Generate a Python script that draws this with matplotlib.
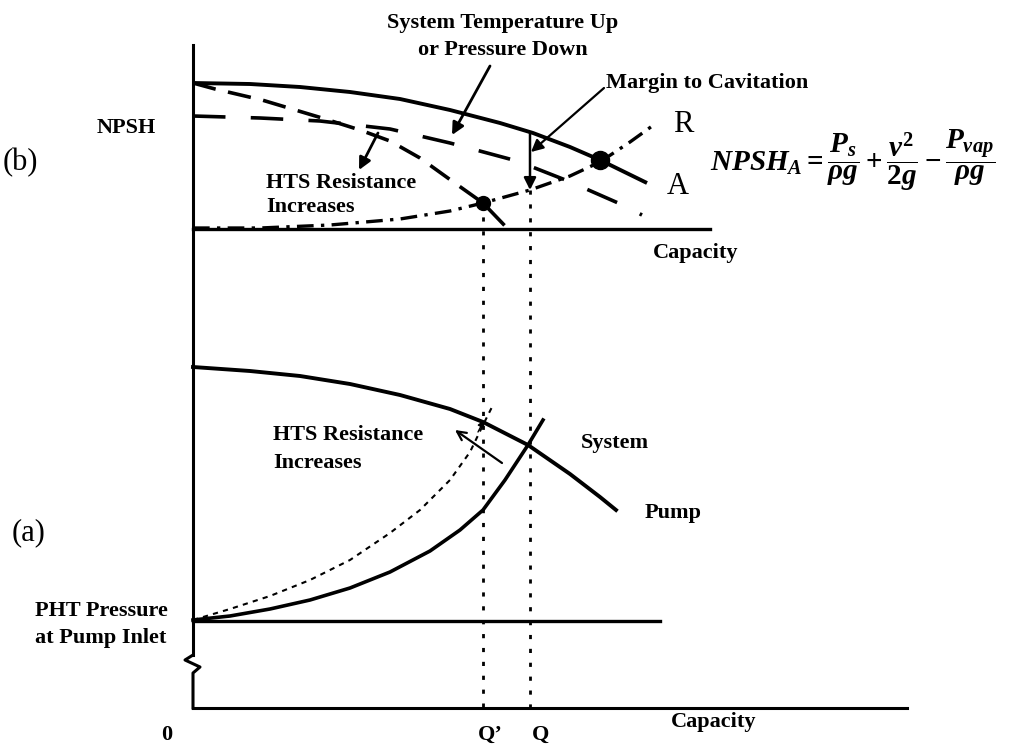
import matplotlib

matplotlib.use("Agg")
import matplotlib.pyplot as plt

plt.rcParams["font.family"] = ["Liberation Serif", "DejaVu Serif"]
plt.rcParams["mathtext.fontset"] = "custom"
plt.rcParams["mathtext.it"] = "Liberation Serif:italic:bold"
plt.rcParams["mathtext.rm"] = "Liberation Serif:bold"
plt.rcParams["mathtext.bf"] = "Liberation Serif:bold"

# schematic drawn in picture units (x right, y down)
# (b) NPSH panel
npsh_a_x = [193, 250, 300, 350, 400, 450, 500, 533, 570, 600, 647]
npsh_a_y = [83, 84, 87, 92, 99, 110, 123, 133, 147, 160, 183]

npsh_r_x = [193, 260, 330, 400, 450, 483, 530, 570, 600, 630, 655]
npsh_r_y = [228, 228, 225, 219, 211, 203, 190, 176, 162, 142, 124]

hts_a_x = [193, 215, 262, 322, 360, 390, 420, 452, 483, 507]
hts_a_y = [83, 89, 100, 118, 130, 141, 158, 181, 203, 228]

temp_a_x = [193, 260, 320, 390, 450, 517, 568, 625, 642]
temp_a_y = [116, 118, 121, 129, 143, 161, 181, 206, 215]

# (a) head / capacity panel
pump_x = [193, 250, 300, 350, 400, 450, 483, 528, 570, 600, 616]
pump_y = [367, 371, 376, 384, 395, 409, 422, 445, 474, 497, 510]

system_x = [193, 230, 270, 310, 350, 390, 430, 460, 483, 505, 528, 543]
system_y = [620, 616, 609, 600, 588, 572, 551, 530, 510, 480, 445, 420]

system_hts_x = [193, 230, 270, 310, 350, 390, 420, 450, 470, 483, 493]
system_hts_y = [620, 609, 596, 580, 560, 533, 510, 480, 452, 425, 405]

q_prime, q_op = 483, 530
y_top_axis, y_pht, y_bottom = 229, 621, 708
x_axis = 193

fig = plt.figure(figsize=(10.16, 7.44), dpi=100)
ax = fig.add_axes([0, 0, 1, 1])
ax.set_xlim(0, 1016)
ax.set_ylim(744, 0)
ax.axis("off")

k = "black"

# axes lines
ax.plot([x_axis, x_axis], [45, 655], color=k, lw=2.2)
ax.plot([x_axis, 185, 200, x_axis, x_axis], [655, 660, 667, 673, y_bottom], color=k, lw=2.2)
ax.plot([x_axis, 710], [y_top_axis, y_top_axis], color=k, lw=2.4)
ax.plot([x_axis, 660], [y_pht, y_pht], color=k, lw=2.4)
ax.plot([x_axis, 907], [y_bottom, y_bottom], color=k, lw=2.2)

# Q' and Q verticals
ax.plot([q_prime, q_prime], [203, y_bottom], color=k, lw=2.0, ls=(0, (1.5, 3.5)))
ax.plot([q_op, q_op], [190, y_bottom], color=k, lw=2.0, ls=(0, (1.5, 3.5)))

# NPSH curves
ax.plot(npsh_a_x, npsh_a_y, color=k, lw=2.8, solid_capstyle="butt")
ax.plot(npsh_r_x, npsh_r_y, color=k, lw=2.4, ls=(0, (5, 2.2, 1, 2.2)))
ax.plot(hts_a_x, hts_a_y, color=k, lw=2.6, ls=(0, (6.5, 3.5)))
ax.plot(temp_a_x, temp_a_y, color=k, lw=2.6, ls=(0, (9, 7)))
ax.plot([npsh_a_x[9]], [npsh_a_y[9]], "o", color=k, ms=13)
ax.plot([hts_a_x[8]], [hts_a_y[8]], "o", color=k, ms=10)

# pump / system curves
ax.plot(pump_x, pump_y, color=k, lw=2.8)
ax.plot(system_x, system_y, color=k, lw=2.6)
ax.plot(system_hts_x, system_hts_y, color=k, lw=1.5, ls=(0, (2.5, 2.5)))

# arrows
heavy = dict(arrowstyle="-|>", color=k, lw=2.0, mutation_scale=18, shrinkA=0, shrinkB=0)
ax.annotate("", xy=(452, 135), xytext=(490, 66), arrowprops=heavy)
ax.annotate("", xy=(359, 170), xytext=(378, 133), arrowprops=heavy)
ax.annotate("", xy=(531, 152), xytext=(604, 88), arrowprops=dict(heavy, lw=1.6))
ax.annotate("", xy=(530, 190), xytext=(530, 133), arrowprops=dict(heavy, lw=1.8))
ax.annotate("", xy=(455, 430), xytext=(502, 463),
            arrowprops=dict(arrowstyle="->", color=k, lw=1.6, mutation_scale=16, shrinkA=0, shrinkB=0))
ax.annotate("", xy=(484, 420), xytext=(478, 432),
            arrowprops=dict(arrowstyle="-|>", color=k, lw=1.0, mutation_scale=10, shrinkA=0, shrinkB=0))

# text
bold = dict(fontweight="bold", fontsize=16, color=k)
ax.text(97, 128, "NPSH", ha="left", va="center", **bold)
ax.text(3, 163, "(b)", ha="left", va="center", fontsize=22, color=k)
ax.text(266, 183, "HTS Resistance", ha="left", va="center", **bold)
ax.text(266, 207, "Increases", ha="left", va="center", **bold)
ax.text(503, 23, "System Temperature Up", ha="center", va="center", **bold)
ax.text(503, 50, "or Pressure Down", ha="center", va="center", **bold)
ax.text(606, 83, "Margin to Cavitation", ha="left", va="center", **bold)
ax.text(683, 124, "R", ha="center", va="center", fontsize=22, color=k)
ax.text(678, 186, "A", ha="center", va="center", fontsize=22, color=k)
ax.text(710, 160, r"$NPSH_A = \dfrac{P_s}{\rho g} + \dfrac{v^2}{2g} - \dfrac{P_{vap}}{\rho g}$",
        ha="left", va="center", fontsize=21, color=k)
ax.text(696, 253, "Capacity", ha="center", va="center", **bold)

ax.text(273, 435, "HTS Resistance", ha="left", va="center", **bold)
ax.text(273, 463, "Increases", ha="left", va="center", **bold)
ax.text(581, 443, "System", ha="left", va="center", **bold)
ax.text(645, 513, "Pump", ha="left", va="center", **bold)
ax.text(12, 533, "(a)", ha="left", va="center", fontsize=22, color=k)
ax.text(35, 611, "PHT Pressure", ha="left", va="center", **bold)
ax.text(35, 638, "at Pump Inlet", ha="left", va="center", **bold)
ax.text(167, 735, "0", ha="center", va="center", **bold)
ax.text(490, 735, "Q\u2019", ha="center", va="center", **bold)
ax.text(541, 735, "Q", ha="center", va="center", **bold)
ax.text(714, 722, "Capacity", ha="center", va="center", **bold)

fig.savefig("out.png", dpi=100, facecolor="white")
